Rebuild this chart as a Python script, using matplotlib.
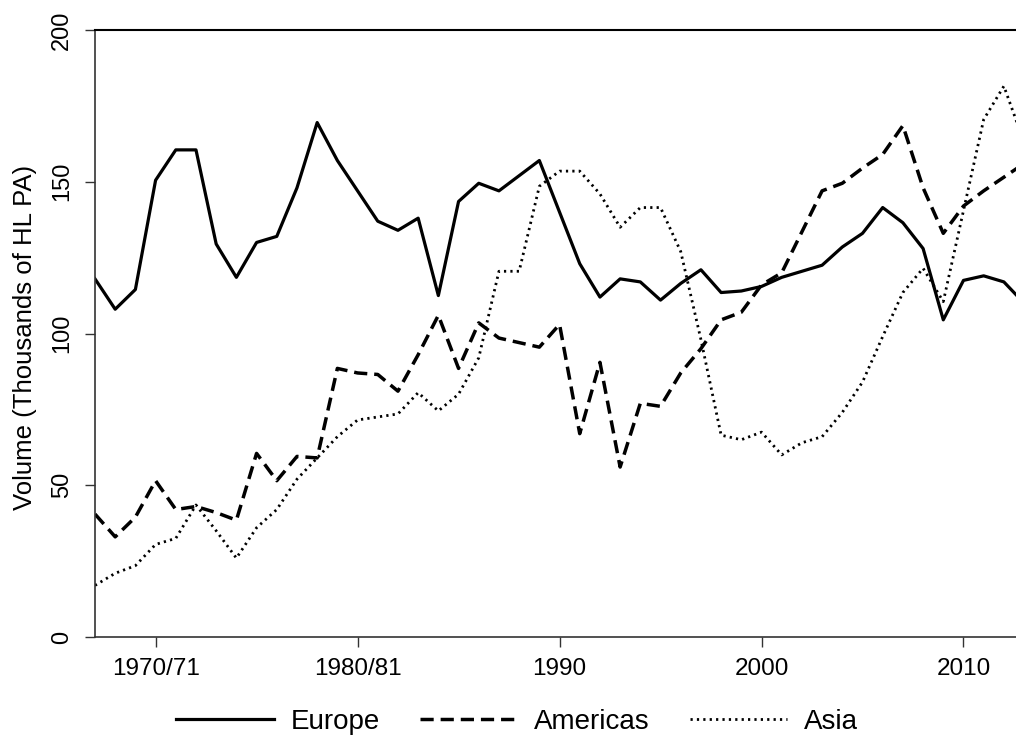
import matplotlib
matplotlib.use("Agg")
import matplotlib.pyplot as plt
import numpy as np

plt.rcParams['font.family'] = ['Liberation Sans', 'DejaVu Sans']

years = np.arange(1967, 2014)

europe = [118, 108, 114.5, 150.5, 160.5, 160.5, 129.5, 118.5, 130, 132,
          148, 169.5, 157, 147, 137, 134, 138, 112.5, 143.5, 149.5,
          147, 152, 157, 140, 123, 112, 118, 117, 111, 116.5,
          121, 113.5, 114, 115.5, 118.5, 120.5, 122.5, 128.5, 133, 141.5,
          136.5, 128, 104.5, 117.5, 119, 117, 110]

americas = [40.5, 33, 39.5, 51.5, 42, 43, 41, 38.5, 60.5, 51.5,
            59.5, 59, 88.5, 87, 86.5, 81, 93, 106, 88.5, 103.5,
            98.5, 97, 95.5, 103, 67, 90.5, 56, 77, 76, 87,
            95, 104.5, 107, 116, 120, 133.5, 147, 149.5, 154.5, 159,
            168.5, 148, 133, 142, 147, 151.5, 156]

asia = [17, 21, 23.5, 30.5, 32.5, 43.5, 35, 26, 36, 42,
        52, 59, 66, 71.5, 72.5, 73.5, 80.5, 74.5, 80, 92,
        120.5, 120.5, 148.5, 153.5, 153.5, 146, 135, 141.5, 141.5, 127,
        98, 66.5, 65, 67.5, 60, 64, 66, 74, 84, 99,
        113.5, 121.5, 110.5, 140.5, 170.5, 181.5, 163]

xtick_pos = [1970, 1980, 1990, 2000, 2010]
xtick_labels = ['1970/71', '1980/81', '1990', '2000', '2010']
ytick_pos = [0, 50, 100, 150, 200]

axcol = '#333333'

fig = plt.figure(figsize=(10.16, 7.38), dpi=100)
ax = fig.add_axes([95 / 1016, 1 - 637 / 738, 1 - 95 / 1016, (637 - 30) / 738])

ax.plot(years, europe, color='black', lw=2.3, label='Europe')
ax.plot(years, americas, color='black', lw=2.5, dashes=(3.8, 2.0), label='Americas')
ax.plot(years, asia, color='black', lw=2.0, dashes=(0.8, 1.5), label='Asia')

ax.set_xlim(1967, 2012.6)
ax.set_ylim(0, 200)

ax.set_xticks(xtick_pos)
ax.set_xticklabels(xtick_labels, fontsize=17.5)
ax.set_yticks(ytick_pos)
ax.set_yticklabels([str(v) for v in ytick_pos], fontsize=17, rotation=90, va='center')

ax.tick_params(axis='both', direction='out', length=7, width=1, color=axcol)
ax.tick_params(axis='x', pad=8)
ax.tick_params(axis='y', pad=9)

for side in ['left', 'bottom']:
    ax.spines[side].set_color(axcol)
    ax.spines[side].set_linewidth(1.2)
ax.spines['top'].set_color('black')
ax.spines['top'].set_linewidth(1.5)
ax.spines['right'].set_visible(False)

fig.text(25 / 1016, 1 - 337 / 738, 'Volume (Thousands of HL PA)', rotation=90,
         ha='center', va='center', fontsize=18.5)

leg = fig.legend(loc='center', bbox_to_anchor=(517 / 1016, 1 - 722 / 738), ncol=3,
                 frameon=False, fontsize=20, handlelength=3.5, handletextpad=0.6,
                 columnspacing=1.45)

fig.savefig('out.png', dpi=100)
